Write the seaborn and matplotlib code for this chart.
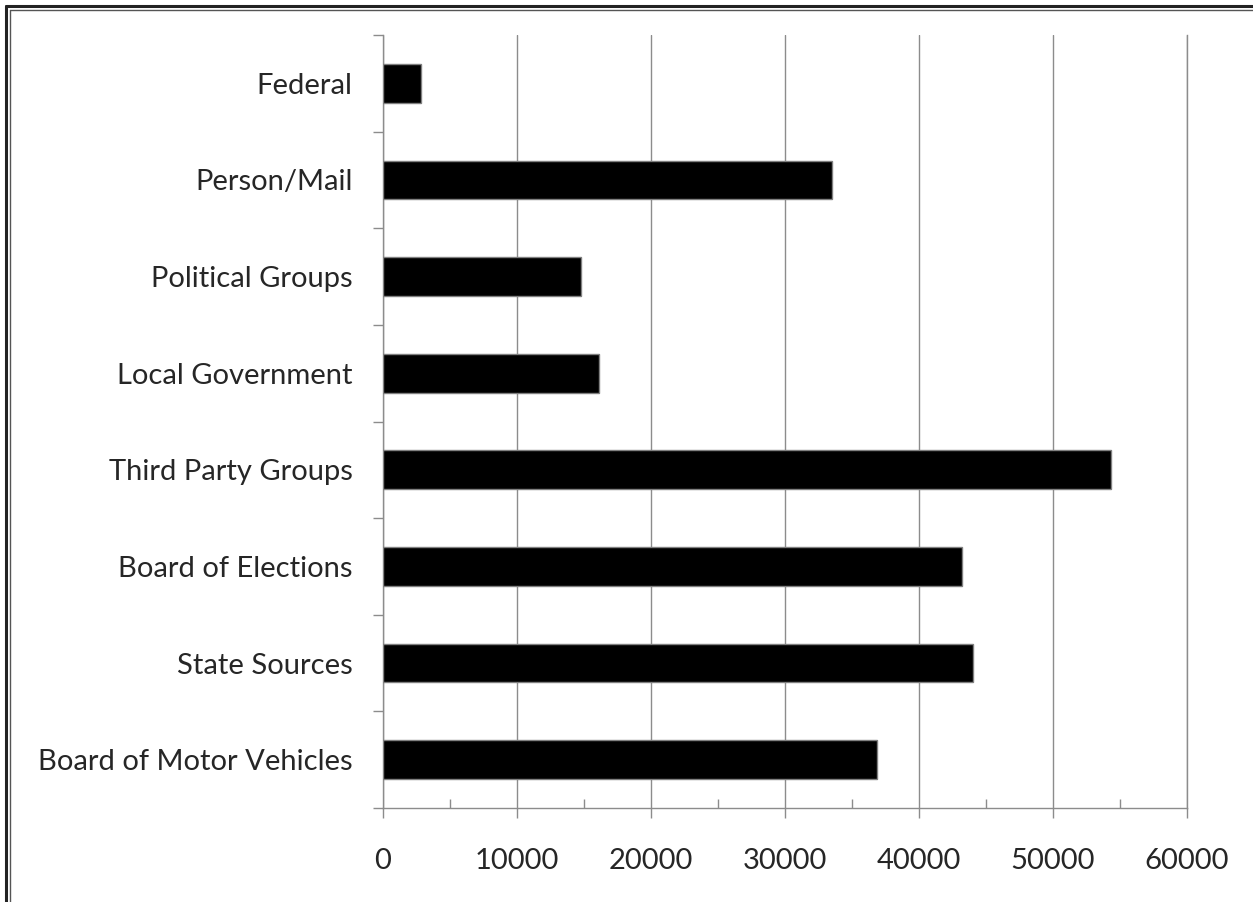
import numpy as np
import pandas as pd
import matplotlib
matplotlib.use("Agg")
import matplotlib.pyplot as plt
from matplotlib.lines import Line2D
from matplotlib.ticker import MultipleLocator
import seaborn as sns

categories = ['Federal', 'Person/Mail', 'Political Groups', 'Local Government',
              'Third Party Groups', 'Board of Elections', 'State Sources',
              'Board of Motor Vehicles']
values = [2800, 33500, 14800, 16100, 54350, 43200, 44000, 36900]
x_ticks = [0, 10000, 20000, 30000, 40000, 50000, 60000]

df = pd.DataFrame({'source': categories, 'count': values})

sns.set_style('white')
plt.rcParams['font.family'] = ['Lato', 'DejaVu Sans']
plt.rcParams['xtick.bottom'] = True
plt.rcParams['ytick.left'] = True

fig = plt.figure(figsize=(12.53, 9.02), dpi=100)
ax = fig.add_axes([383 / 1253, 1 - 808 / 902, (1187 - 383) / 1253, (808 - 35) / 902])

sns.barplot(data=df, x='count', y='source', order=categories, orient='h',
            color='black', edgecolor='#808080', linewidth=1, width=0.4,
            saturation=1, ax=ax, zorder=3)

ax.set_xlim(0, 60000)
ax.set_ylim(len(categories) - 0.5, -0.5)
ax.set_xlabel('')
ax.set_ylabel('')

gray = '#8c8c8c'
ax.set_xticks(x_ticks)
ax.set_xticklabels([str(t) for t in x_ticks], fontsize=21)
ax.xaxis.set_minor_locator(MultipleLocator(5000))
ax.tick_params(axis='x', which='major', direction='out', length=7, width=1,
               color=gray, pad=22, bottom=True)
ax.tick_params(axis='x', which='minor', direction='in', length=6.5, width=1,
               color=gray, bottom=True)
ax.grid(axis='x', which='major', color=gray, linewidth=1, zorder=0)
ax.set_axisbelow(True)

ax.set_yticks(range(len(categories)))
ax.set_yticklabels(categories, fontsize=21)
ax.set_yticks(np.arange(-0.5, len(categories)), minor=True)
ax.tick_params(axis='y', which='major', length=0, pad=22)
ax.tick_params(axis='y', which='minor', direction='out', length=7, width=1,
               color=gray, left=True)

ax.spines['top'].set_visible(False)
for side in ['left', 'bottom', 'right']:
    ax.spines[side].set_color(gray)
    ax.spines[side].set_linewidth(1)

# double frame at the edge of the picture
fig.add_artist(Line2D([6 / 1253, 6 / 1253], [0, 1 - 6 / 902], color='#222222', lw=2.2))
fig.add_artist(Line2D([10 / 1253, 10 / 1253], [0, 1 - 10 / 902], color='#555555', lw=1))
fig.add_artist(Line2D([6 / 1253, 1], [1 - 6 / 902, 1 - 6 / 902], color='#222222', lw=2.2))
fig.add_artist(Line2D([10 / 1253, 1], [1 - 10 / 902, 1 - 10 / 902], color='#555555', lw=1))

fig.savefig('out.png', dpi=100, facecolor='white')
